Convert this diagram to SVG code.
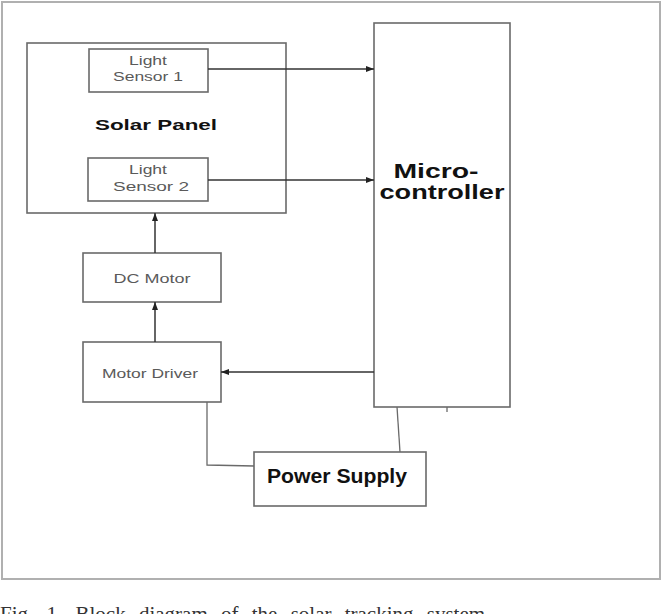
<svg xmlns="http://www.w3.org/2000/svg" width="662" height="614" viewBox="0 0 662 614">
<style>
.box{fill:#fff;stroke:#6a6a6a;stroke-width:1.6}
.lbl{font-family:"Liberation Sans",Arial,sans-serif;fill:#5a5a5a;font-size:13px}
.bold{font-family:"Liberation Sans",Arial,sans-serif;font-weight:bold;fill:#111}
.conn{fill:none;stroke:#333;stroke-width:1.5}
.thin{fill:none;stroke:#6a6a6a;stroke-width:1.3}
</style>
<defs>
<marker id="ah" markerWidth="8" markerHeight="6" refX="8" refY="3" orient="auto" markerUnits="userSpaceOnUse">
<path d="M0,0 L8,3 L0,6 Z" fill="#222"/>
</marker>
</defs>
<rect x="0" y="0" width="662" height="614" fill="#fff"/>
<rect x="2" y="2" width="658" height="577" fill="none" stroke="#b0b0b0" stroke-width="2"/>

<g id="solar-panel">
<rect class="box" x="27" y="43" width="259" height="170"/>
<text class="bold" x="156" y="130" font-size="15" text-anchor="middle" textLength="122" lengthAdjust="spacingAndGlyphs">Solar Panel</text>
</g>
<g id="light-sensor-1">
<rect class="box" x="89" y="49" width="119" height="43"/>
<text class="lbl" x="148" y="65" text-anchor="middle" textLength="38" lengthAdjust="spacingAndGlyphs">Light</text>
<text class="lbl" x="148" y="81" text-anchor="middle" textLength="70" lengthAdjust="spacingAndGlyphs">Sensor 1</text>
</g>
<g id="light-sensor-2">
<rect class="box" x="88" y="158" width="120" height="43"/>
<text class="lbl" x="148" y="174" text-anchor="middle" textLength="38" lengthAdjust="spacingAndGlyphs">Light</text>
<text class="lbl" x="151" y="191" text-anchor="middle" textLength="76" lengthAdjust="spacingAndGlyphs">Sensor 2</text>
</g>
<g id="dc-motor">
<rect class="box" x="83" y="253" width="138" height="49"/>
<text class="lbl" x="152" y="283" text-anchor="middle" textLength="77" lengthAdjust="spacingAndGlyphs">DC Motor</text>
</g>
<g id="motor-driver">
<rect class="box" x="83" y="342" width="138" height="60"/>
<text class="lbl" x="150" y="378" text-anchor="middle" textLength="96" lengthAdjust="spacingAndGlyphs">Motor Driver</text>
</g>
<g id="microcontroller">
<rect class="box" x="374" y="23" width="136" height="384"/>
<text class="bold" x="436" y="178" font-size="21" text-anchor="middle" textLength="85" lengthAdjust="spacingAndGlyphs">Micro-</text>
<text class="bold" x="442" y="199" font-size="21" text-anchor="middle" textLength="125" lengthAdjust="spacingAndGlyphs">controller</text>
</g>
<g id="power-supply">
<rect class="box" x="254" y="452" width="172" height="54"/>
<text class="bold" x="337" y="483" font-size="20" fill="#1a1a1a" text-anchor="middle" textLength="140" lengthAdjust="spacingAndGlyphs">Power Supply</text>
</g>

<g id="connectors">
<path class="conn" d="M208,69 H374" marker-end="url(#ah)"/>
<path class="conn" d="M208,180 H374" marker-end="url(#ah)"/>
<path class="conn" d="M155,253 V213" marker-end="url(#ah)"/>
<path class="conn" d="M155,342 V302" marker-end="url(#ah)"/>
<path class="conn" d="M374,372 H221" marker-end="url(#ah)"/>
<path class="thin" d="M207,402 V465 L254,466"/>
<path class="thin" d="M397,407 L400,452"/>
<path class="thin" d="M447,407 V412"/>
</g>

<text x="0" y="621" font-family="'Liberation Serif','Times New Roman',serif" font-size="21" fill="#333" word-spacing="8">Fig. 1.  Block diagram of the solar tracking system</text>
</svg>
